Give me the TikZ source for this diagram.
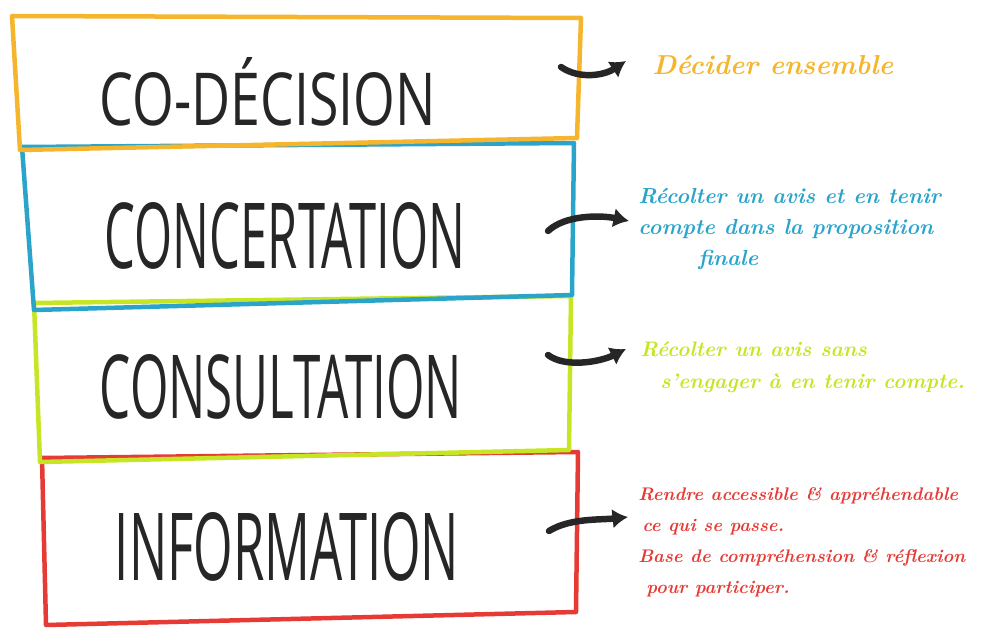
\documentclass[tikz,border=0pt]{standalone}
\usepackage{fontspec}
\usepackage{graphicx}
\newfontfamily\titlefont{Open Sans}
\usetikzlibrary{arrows.meta}
\definecolor{cOrange}{HTML}{F5B52C}
\definecolor{cBlue}{HTML}{2AA4CB}
\definecolor{cGreen}{HTML}{C6E524}
\definecolor{cRed}{HTML}{E63B35}
\tikzset{
  frame/.style={line width=3.2pt, line join=round},
  title/.style={inner sep=0pt, text=black!85},
  desc/.style={inner sep=0pt, anchor=north west, align=left},
  pointer/.style={line width=4.6pt, black!85, line cap=round, -{Latex[length=11pt,width=14pt]}},
}
\begin{document}
\begin{tikzpicture}[x=0.025cm, y=-0.025cm]
\useasboundingbox (0,0) rectangle (981,630);
% boxes (bottom first so upper borders sit on top)
\draw[frame, cRed]    (42,458) -- (578,452) -- (576,612) -- (46,625) -- cycle;
\draw[frame, cGreen]  (34,303) -- (571,296) -- (569,450) -- (40,462) -- cycle;
\draw[frame, cBlue]   (22,147) -- (574,143) -- (572,295) -- (34,310) -- cycle;
\draw[frame, cOrange] (12,16)  -- (581,18)  -- (577,138) -- (20,150) -- cycle;
% titles
\node[title] (t1) at (268,92)  {\resizebox{8.4cm}{1.7cm}{\titlefont CO-DÉCISION}};
\node[title] (t2) at (285,236) {\resizebox{9.0cm}{1.65cm}{\titlefont CONCERTATION}};
\node[title] (t3) at (281,387) {\resizebox{9.05cm}{1.6cm}{\titlefont CONSULTATION}};
\node[title] (t4) at (287,547) {\resizebox{8.6cm}{1.7cm}{\titlefont INFORMATION}};
% descriptions
\node[desc, text=cOrange, font=\bfseries\itshape\fontsize{19.5}{26}\selectfont] (d1) at (652,55) {Décider ensemble};
\node[desc, text=cBlue, font=\bfseries\itshape\fontsize{15.5}{22}\selectfont] (d2) at (638,188)
  {Récolter un avis et en tenir\\ compte dans la proposition\\ \hspace{1.5cm}finale};
\node[desc, text=cGreen, font=\bfseries\itshape\fontsize{15}{23}\selectfont] (d3) at (640,341)
  {Récolter un avis sans\\ \hspace{0.5cm}s'engager à en tenir compte.};
\node[desc, text=cRed, font=\bfseries\itshape\fontsize{13}{22}\selectfont] (d4) at (638,487)
  {Rendre accessible \& appréhendable\\ \hspace{0.1cm}ce qui se passe.\\ Base de compréhension \& réflexion\\ \hspace{0.2cm}pour participer.};
% arrows
\coordinate (s1) at (561,67);
\coordinate (e1) at (626,61);
\coordinate (s2) at (548,231);
\coordinate (e2) at (629,221);
\coordinate (s3) at (548,355);
\coordinate (e3) at (626,349);
\coordinate (s4) at (549,531);
\coordinate (e4) at (628,517);
\draw[pointer] (s1) .. controls (580,80) and (605,75) .. (e1);
\draw[pointer] (s2) .. controls (565,215) and (600,215) .. (e2);
\draw[pointer] (s3) .. controls (565,368) and (600,362) .. (e3);
\draw[pointer] (s4) .. controls (570,518) and (600,520) .. (e4);
\end{tikzpicture}
\end{document}
